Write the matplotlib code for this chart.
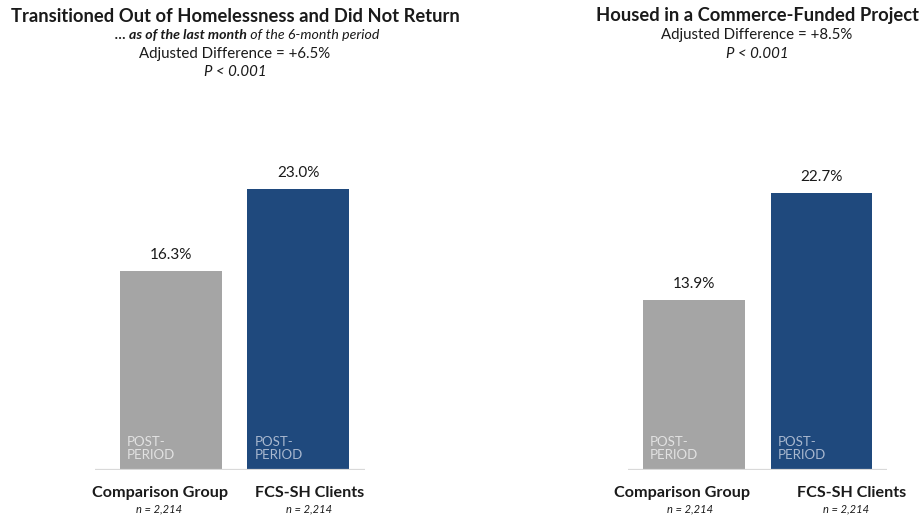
import matplotlib
matplotlib.use("Agg")
import matplotlib.pyplot as plt

plt.rcParams['font.family'] = ['Lato', 'DejaVu Sans']

categories = ["Comparison Group", "FCS-SH Clients"]
n_labels = ["n = 2,214", "n = 2,214"]
bar_inner_label = "POST-\nPERIOD"
left_values = [16.3, 23.0]
right_values = [13.9, 22.7]
left_title = "Transitioned Out of Homelessness and Did Not Return"
left_sub_bold = "\u2026 as of the last month"
left_sub_rest = " of the 6-month period"
left_diff = "Adjusted Difference = +6.5%"
right_title = "Housed in a Commerce-Funded Project"
right_diff = "Adjusted Difference = +8.5%"
p_text = "P < 0.001"

W, H = 924, 517
fig = plt.figure(figsize=(W/100, H/100), dpi=100)

colors = ["#A5A5A5", "#1F497D"]
inner_colors = ["#E2E2E2", "#A9B8CF"]
text_col = "#1a1a1a"

def px_axes(x0, x1, ytop, ybot):
    return fig.add_axes([x0/W, 1-ybot/H, (x1-x0)/W, (ybot-ytop)/H])

def panel(ax, values, xlim, cat_dx, n_dx):
    x = range(len(values))
    ax.bar(x, values, width=0.8, color=colors, zorder=2)
    ax.set_xlim(*xlim)
    ax.set_ylim(0, 30.33)
    for s in ax.spines.values():
        s.set_visible(False)
    ax.axhline(0, color="#D9D9D9", lw=1.6, zorder=3)
    ax.set_xticks([]); ax.set_yticks([])
    for i, v in enumerate(values):
        ax.annotate(f"{v:.1f}%", (i, v), xytext=(0, 9), textcoords="offset pixels",
                    ha="center", va="bottom", fontsize=11, color=text_col)
        ax.annotate(bar_inner_label, (i - 0.4, 0), xytext=(7, 9), textcoords="offset pixels",
                    ha="left", va="bottom", fontsize=9.5, color=inner_colors[i], linespacing=1.15)
        ax.annotate(categories[i], (i, 0), xytext=(cat_dx[i], -23), textcoords="offset pixels",
                    ha="center", va="center", fontsize=11.6, fontweight="bold", color=text_col)
        ax.annotate(n_labels[i], (i, 0), xytext=(n_dx[i], -38.5), textcoords="offset pixels",
                    ha="center", va="center", fontsize=8, fontstyle="italic", color=text_col)

ax1 = px_axes(95, 365, 100, 470)
panel(ax1, left_values, (-0.596, 1.522), (-11, 11.5), (-12, 10.5))
ax2 = px_axes(628, 887, 100, 470)
panel(ax2, right_values, (-0.518, 1.514), (-12, 30.5), (-4, 25))

def ftext(xp, yp, s, **kw):
    return fig.text(xp/W, 1-yp/H, s, ha=kw.pop("ha", "center"), va="center", color=text_col, **kw)

ftext(235, 16, left_title, fontsize=13.2, fontweight="bold")
t1 = ftext(0, 35, left_sub_bold, fontsize=10.2, fontweight="bold", fontstyle="italic", ha="left")
t2 = ftext(0, 35, left_sub_rest, fontsize=10.2, fontstyle="italic", ha="left")
r = fig.canvas.get_renderer()
w1 = t1.get_window_extent(r).width
w2 = t2.get_window_extent(r).width
start = 247 - (w1 + w2)/2
t1.set_x(start/W)
t2.set_x((start + w1)/W)
ftext(235, 54, left_diff, fontsize=10.8)
ftext(235, 72, p_text, fontsize=10.8, fontstyle="italic")

ftext(757, 16, right_title, fontsize=13.2, fontweight="bold")
ftext(757, 35, right_diff, fontsize=10.8)
ftext(757, 54, p_text, fontsize=10.8, fontstyle="italic")

fig.savefig("out.png", dpi=100)
